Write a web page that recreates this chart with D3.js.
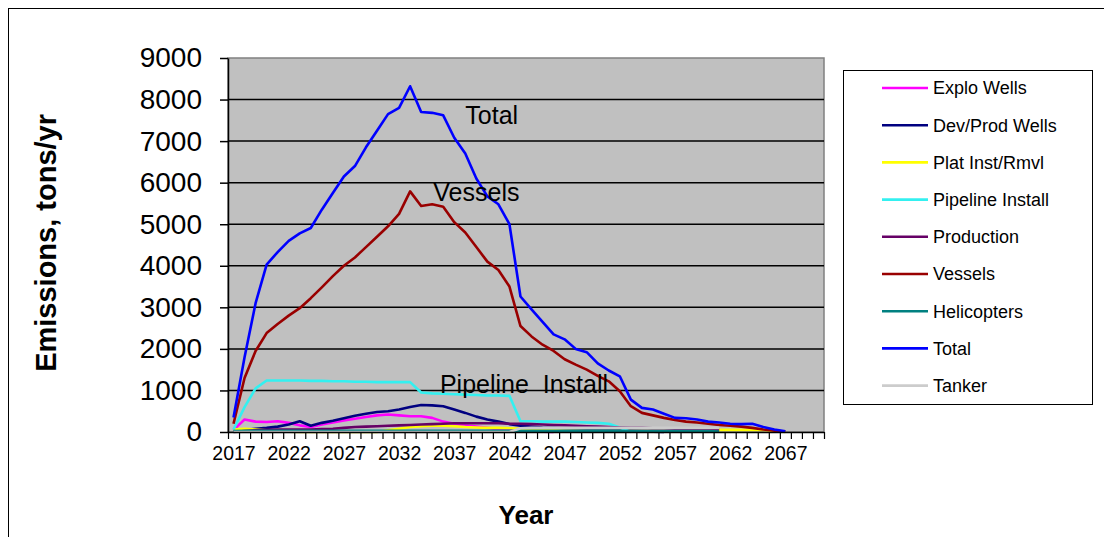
<!DOCTYPE html>
<html>
<head>
<meta charset="utf-8">
<script src="https://cdn.jsdelivr.net/npm/d3@7"></script>
<style>
    body { margin: 0; background: #fff; }
    svg { display: block; font-family: Arial, "Liberation Sans", sans-serif; }
</style>
</head>
<body>
<svg id="chart" width="1104" height="537"></svg>
<script>
/*------------------- data --------------------*/
// categories: one per year, 2017 .. 2070
const years = d3.range(2017, 2071);
const yTicks = [0, 1000, 2000, 3000, 4000, 5000, 6000, 7000, 8000, 9000];
const xLabelYears = [2017, 2022, 2027, 2032, 2037, 2042, 2047, 2052, 2057, 2062, 2067];

// every series starts in 2017
const exploWells = [50, 300, 250, 240, 260, 220, 160, 120, 180, 230, 280, 320, 360, 400, 420, 400, 380, 380, 340, 250,
    200, 160, 130, 100, 70, 50, 30, 20, 10, 0];
const devProdWells = [10, 50, 80, 100, 130, 180, 260, 150, 220, 270, 330, 390, 440, 480, 500, 540, 600, 650, 640, 620,
    540, 460, 370, 300, 250, 190, 150, 130, 110, 100, 90, 80, 70, 60, 50, 40, 30, 20, 10, 0];
const platInst = [60, 80, 60, 40, 20, 10, 0, 0, 0, 0, 0, 0, 0, 0, 40, 80, 120, 140, 150, 150,
    140, 120, 110, 100, 100, 90, 80, 60, 50, 40, 30, 30, 20, 20, 20, 20, 20, 20, 20, 20,
    20, 20, 20, 20, 50, 50, 50, 50, 50, 30, 0];
const pipelineInstall = [60, 600, 1050, 1240, 1240, 1240, 1240, 1230, 1230, 1220, 1220, 1210, 1210, 1200, 1200, 1200, 1200, 950, 930, 920,
    910, 900, 890, 880, 880, 870, 260, 260, 250, 250, 250, 240, 230, 220, 200, 110, 0];
const production = [0, 20, 40, 50, 60, 60, 60, 60, 70, 80, 100, 120, 130, 140, 150, 160, 170, 180, 190, 200,
    210, 210, 210, 210, 210, 200, 200, 190, 180, 170, 160, 150, 140, 130, 120, 110, 100, 100, 90, 90,
    80, 80, 70, 60, 50];
const vessels = [200, 1300, 1950, 2380, 2600, 2800, 2980, 3220, 3480, 3750, 4000, 4200, 4450, 4700, 4950, 5250, 5790, 5440, 5480, 5420,
    5050, 4800, 4450, 4100, 3900, 3500, 2550, 2300, 2100, 1950, 1750, 1620, 1500, 1350, 1220, 980, 620, 460, 400, 340,
    290, 250, 230, 200, 170, 150, 130, 100, 60, 30, 10];
const helicopters = [20, 30, 30, 30, 30, 30, 30, 30, 30, 30, 30, 30, 30, 30, 30, 30, 30, 30, 30, 30,
    30, 30, 30, 30, 30, 30, 30, 30, 30, 30, 30, 30, 30, 30, 30, 30, 20, 20, 20, 20,
    20, 20, 20, 20, 10];
const total = [350, 1800, 3100, 4030, 4330, 4600, 4780, 4910, 5350, 5750, 6150, 6400, 6850, 7250, 7650, 7800, 8320, 7700, 7680, 7620,
    7080, 6700, 6100, 5670, 5480, 5000, 3260, 2950, 2650, 2350, 2230, 2000, 1920, 1650, 1480, 1340, 780, 580, 540, 440,
    340, 330, 300, 250, 230, 200, 190, 200, 120, 60, 20];
const tanker = [0, 0, 0, 0, 0, 0, 0, 0, 0, 0, 0, 0, 0, 0, 0, 0, 0, 0, 0, 0,
    0, 0, 0, 0, 0, 0, 90, 100, 100, 100, 100, 100, 100, 100, 100, 100, 100, 100, 100, 100,
    100, 100, 100, 100, 100];

const seriesNames = ["Explo Wells", "Dev/Prod Wells", "Plat Inst/Rmvl", "Pipeline Install", "Production",
    "Vessels", "Helicopters", "Total", "Tanker"];
const seriesValues = [exploWells, devProdWells, platInst, pipelineInstall, production,
    vessels, helicopters, total, tanker];
const seriesColors = ["#FF00FF", "#000080", "#FFFF00", "#33F0F0", "#660066",
    "#990000", "#008080", "#0000FF", "#CCCCCC"];

// text labels written on the plot: [text, year, value] of the left end of the baseline
const annotations = [
    ["Total", 2038.0, 7400],
    ["Vessels", 2035.1, 5550],
    ["Pipeline  Install", 2035.7, 950]
];

/*------------------- layout --------------------*/
const plot = { left: 228, right: 824, top: 58, bottom: 432 };

const svg = d3.select("#chart");

// outer frame of the chart
svg.append("rect")
    .attr("x", 8.5).attr("y", 8.5)
    .attr("width", 1120).attr("height", 560)
    .attr("fill", "#fff")
    .attr("stroke", "#000").attr("stroke-width", 1);

const x = d3.scaleLinear()
    .domain([years[0] - 0.5, years[years.length - 1] + 0.5])
    .range([plot.left, plot.right]);

const y = d3.scaleLinear()
    .domain([0, 9000])
    .range([plot.bottom, plot.top]);

// plot area
svg.append("rect")
    .attr("x", plot.left).attr("y", plot.top)
    .attr("width", plot.right - plot.left).attr("height", plot.bottom - plot.top)
    .attr("fill", "#C0C0C0")
    .attr("stroke", "#808080").attr("stroke-width", 1.5);

// gridlines
svg.append("g")
    .selectAll("line")
    .data(yTicks.filter(t => t > 0 && t < 9000))
    .join("line")
    .attr("x1", plot.left).attr("x2", plot.right)
    .attr("y1", d => y(d)).attr("y2", d => y(d))
    .attr("stroke", "#000").attr("stroke-width", 1.5);

/*------------------- lines --------------------*/
const line = d3.line()
    .x((d, i) => x(years[i]))
    .y(d => y(d));

svg.append("g")
    .selectAll("path")
    .data(seriesValues)
    .join("path")
    .attr("d", d => line(d))
    .attr("fill", "none")
    .attr("stroke", (d, i) => seriesColors[i])
    .attr("stroke-width", 2.6)
    .attr("stroke-linejoin", "round");

/*------------------- axes --------------------*/
const yAxis = svg.append("g")
    .attr("transform", `translate(${plot.left},0)`)
    .call(d3.axisLeft(y).tickValues(yTicks).tickSize(8).tickPadding(18).tickSizeOuter(0)
        .tickFormat(d3.format("d")));
yAxis.select(".domain").attr("stroke", "#000").attr("stroke-width", 1.5);
yAxis.selectAll(".tick line").attr("stroke", "#000").attr("stroke-width", 1.5);
yAxis.selectAll("text").attr("font-size", 28).attr("fill", "#000")
    .attr("font-family", "Arial, 'Liberation Sans', sans-serif");

// tick marks between categories
const xTickAxis = svg.append("g")
    .attr("transform", `translate(0,${plot.bottom})`)
    .call(d3.axisBottom(x)
        .tickValues(d3.range(years[0] - 0.5, years[years.length - 1] + 1, 1))
        .tickSize(7).tickSizeOuter(0).tickFormat(""));
xTickAxis.select(".domain").attr("stroke", "#000").attr("stroke-width", 1.5);
xTickAxis.selectAll(".tick line").attr("stroke", "#000").attr("stroke-width", 1.2);

// category labels
const xLabelAxis = svg.append("g")
    .attr("transform", `translate(0,${plot.bottom})`)
    .call(d3.axisBottom(x).tickValues(xLabelYears).tickSize(0).tickPadding(14).tickFormat(d3.format("d")));
xLabelAxis.select(".domain").remove();
xLabelAxis.selectAll("text").attr("font-size", 19.5).attr("fill", "#000")
    .attr("font-family", "Arial, 'Liberation Sans', sans-serif");

// axis titles
svg.append("text")
    .attr("x", (plot.left + plot.right) / 2).attr("y", 524)
    .attr("text-anchor", "middle")
    .attr("font-size", 26).attr("font-weight", "bold")
    .text("Year");

svg.append("text")
    .attr("transform", `translate(56,${y(4550)}) rotate(-90)`)
    .attr("text-anchor", "middle")
    .attr("font-size", 29).attr("font-weight", "bold")
    .text("Emissions,  tons/yr");

// labels on the plot
svg.append("g")
    .selectAll("text")
    .data(annotations)
    .join("text")
    .attr("x", d => x(d[1])).attr("y", d => y(d[2]))
    .attr("font-size", 25)
    .attr("fill", "#000")
    .style("white-space", "pre")
    .text(d => d[0]);

/*------------------- legend --------------------*/
const legend = svg.append("g").attr("transform", "translate(843,70)");
legend.append("rect")
    .attr("x", 0.5).attr("y", 0.5)
    .attr("width", 249).attr("height", 334)
    .attr("fill", "#fff").attr("stroke", "#000").attr("stroke-width", 1);

const items = legend.selectAll("g.item")
    .data(seriesNames)
    .join("g")
    .attr("class", "item")
    .attr("transform", (d, i) => `translate(0,${18 + i * 37.2})`);

items.append("line")
    .attr("x1", 39).attr("x2", 85)
    .attr("stroke", (d, i) => seriesColors[i])
    .attr("stroke-width", 2.6);

items.append("text")
    .attr("x", 90).attr("dy", "0.35em")
    .attr("font-size", 18)
    .text(d => d);
</script>
</body>
</html>
